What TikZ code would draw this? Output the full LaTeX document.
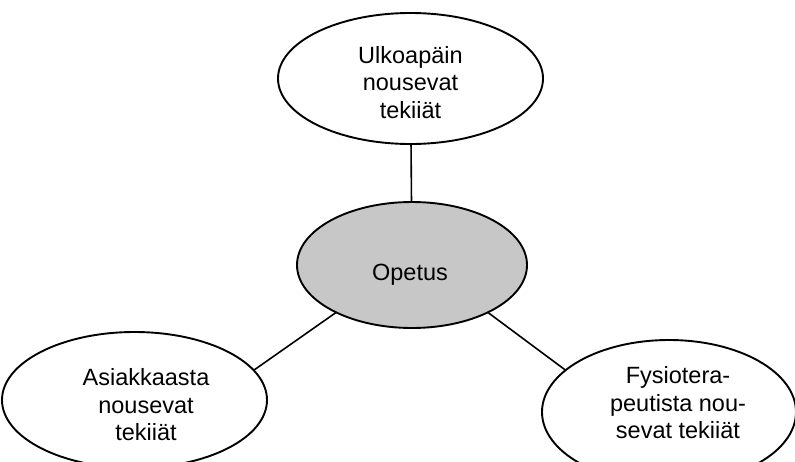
\documentclass[tikz,border=0pt]{standalone}
\usepackage{fontspec}
\setmainfont{Liberation Sans}
\usetikzlibrary{shapes.geometric}
\tikzset{
  oval/.style={ellipse, draw=black, line width=1.9pt, inner sep=0pt, outer sep=0pt},
  ovaltext/.style={align=center, font=\fontsize{23.5}{27.5}\selectfont, inner sep=0pt},
  link/.style={line width=1.6pt}
}
\begin{document}
\begin{tikzpicture}[x=1pt,y=-1pt]
\useasboundingbox (0,0) rectangle (795,461);
\clip (0,0) rectangle (795,461);
\node[oval, minimum width=265pt, minimum height=131pt] (ulko) at (410.5,78.5) {};
\node[ovaltext] (ulkoT) at (410.5,82.5) {Ulkoapäin\\nousevat\\tekiiät};
\node[oval, fill=black!22, minimum width=230pt, minimum height=126pt] (opetus) at (412,265) {};
\node[ovaltext, anchor=base] (opetusT) at (410,280) {Opetus};
\node[oval, minimum width=265pt, minimum height=136pt] (asia) at (134.5,400) {};
\node[ovaltext] (asiaT) at (146,405) {Asiakkaasta\\nousevat\\tekiiät};
\node[oval, minimum width=254pt, minimum height=144pt] (fysio) at (669,412) {};
\node[ovaltext] (fysioT) at (678,403) {Fysiotera-\\peutista nou-\\sevat tekiiät};
\draw[link] (ulko) -- (opetus);
\draw[link] (asia.14) -- (opetus.212);
\draw[link] (opetus.328) -- (fysio.158);
\end{tikzpicture}
\end{document}
